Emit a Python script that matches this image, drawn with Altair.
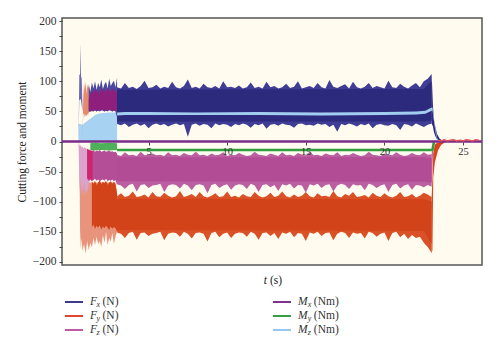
import altair as alt
import pandas as pd

SERIF = "Liberation Serif"

# ---------------- data ----------------
# main steady-cutting segment, sampled every 0.25 s from t = 3.0 s to 23.0 s
FX_HI = [90, 88, 97, 89, 91, 87, 92, 101, 89, 90,
         94, 88, 91, 89, 99, 90, 88, 92, 103, 89,
         91, 88, 96, 90, 89, 92, 88, 100, 90, 91,
         89, 93, 88, 90, 98, 89, 91, 88, 99, 90,
         92, 88, 90, 96, 89, 91, 100, 88, 90, 92,
         89, 97, 90, 88, 102, 91, 89, 92, 95, 88,
         99, 90, 88, 91, 97, 89, 92, 90, 88, 101,
         90, 89, 96, 91, 88, 93, 97, 90, 100, 104,
         112]
FX_LO = [29, 27, 30, 24, 28, 30, 26, 29, 22, 28,
         30, 27, 29, 25, 28, 30, 27, 29, 8, 28,
         30, 26, 29, 28, 22, 30, 27, 29, 28, 24,
         29, 27, 30, 28, 23, 29, 27, 30, 21, 28,
         29, 26, 30, 28, 27, 23, 29, 30, 27, 28,
         26, 30, 28, 29, 24, 28, 16, 29, 27, 30,
         28, 25, 29, 27, 30, 22, 28, 29, 27, 26,
         29, 27, 19, 29, 28, 25, 30, 27, 24, 28,
         30]
FZ_HI = [-22, -24, -18, -23, -22, -24, -17, -23, -22, -20,
         -23, -22, -24, -18, -23, -22, -24, -19, -22, -23,
         -17, -23, -22, -24, -20, -23, -22, -18, -24, -22,
         -23, -19, -22, -24, -23, -17, -22, -23, -24, -20,
         -22, -24, -18, -23, -22, -24, -19, -22, -23, -17,
         -23, -22, -24, -20, -22, -23, -18, -24, -22, -23,
         -19, -22, -24, -23, -17, -22, -23, -24, -20, -22,
         -23, -18, -22, -24, -23, -19, -22, -23, -18, -22,
         -21]
FZ_LO = [-71, -73, -79, -72, -70, -83, -72, -71, -77, -73,
         -72, -70, -84, -73, -71, -72, -78, -70, -73, -81,
         -72, -71, -73, -86, -72, -70, -77, -73, -71, -80,
         -73, -71, -72, -79, -70, -73, -84, -72, -71, -76,
         -72, -82, -71, -73, -70, -78, -72, -73, -85, -71,
         -73, -70, -77, -72, -71, -83, -73, -70, -72, -79,
         -71, -73, -72, -81, -70, -72, -77, -73, -71, -84,
         -72, -70, -78, -73, -71, -80, -72, -73, -76, -72,
         -75]
FY_HI = [-91, -86, -92, -90, -83, -92, -91, -88, -93, -84,
         -91, -92, -85, -90, -93, -91, -82, -92, -90, -87,
         -92, -84, -91, -93, -90, -86, -92, -91, -83, -92,
         -90, -93, -87, -91, -92, -84, -90, -93, -91, -85,
         -92, -90, -83, -91, -93, -88, -92, -90, -84, -91,
         -93, -86, -91, -90, -92, -82, -91, -93, -87, -90,
         -84, -92, -91, -89, -93, -85, -90, -92, -86, -91,
         -93, -90, -84, -92, -91, -87, -93, -90, -85, -88,
         -92]
FY_LO = [-151, -153, -160, -152, -150, -163, -152, -151, -157, -153,
         -152, -150, -164, -153, -151, -152, -158, -150, -153, -161,
         -152, -151, -153, -166, -152, -150, -159, -153, -151, -160,
         -153, -151, -152, -158, -150, -153, -163, -152, -151, -157,
         -152, -162, -151, -153, -150, -159, -152, -153, -165, -151,
         -153, -150, -157, -152, -151, -164, -153, -150, -152, -160,
         -151, -153, -152, -161, -150, -152, -158, -153, -151, -165,
         -152, -150, -159, -153, -162, -155, -160, -158, -168, -175,
         -185]
T_MAIN = [round(3.0 + 0.25 * i, 2) for i in range(len(FX_HI))]

# dense cores of the force bands
CORE_T = [3.0, 22.5, 23.0]
FX_CORE_HI = [86, 87, 100]
FX_CORE_LO = [33, 33, 35]
FZ_CORE_HI = [-26, -26, -28]
FZ_CORE_LO = [-66, -67, -68]
FY_CORE_HI = [-95, -96, -100]
FY_CORE_LO = [-147, -148, -170]

# entry transient (t = 0.5 ... 3.0 s)
FXT1_T = [0.55, 0.6, 0.65, 0.68, 0.71, 0.75, 0.8]
FXT1_HI = [0, 110, 112, 163, 108, 105, 60]
FXT1_LO = [0, 68, 70, 70, 68, 60, 50]
TR_T = [1.2, 1.3, 1.4, 1.5, 1.6, 1.7, 1.8, 1.9, 2.0, 2.1,
        2.2, 2.3, 2.4, 2.5, 2.6, 2.7, 2.8, 2.9, 3.0]
FXT2_HI = [95, 82, 98, 88, 100, 86, 97, 90, 103, 87, 95, 99, 88, 104, 92, 97, 101, 90, 106]
FXT2_LO = [50, 50, 51, 50, 52, 50, 51, 50, 52, 51, 50, 51, 50, 52, 51, 50, 51, 50, 40]
MAG_HI = [70, 78, 84, 80, 88, 82, 86, 79, 90, 84, 87, 81, 89, 85, 83, 88, 86, 82, 85]
MAG_LO = [52, 50, 53, 51, 52, 50, 54, 51, 52, 53, 50, 52, 51, 53, 52, 50, 52, 51, 52]
FYP_T = [0.8, 0.85, 0.9, 0.95, 1.0, 1.05, 1.1, 1.15, 1.2, 1.3, 1.4, 1.5]
FYP_HI = [0, 70, 98, 85, 100, 78, 95, 88, 92, 80, 85, 60]
FYP_LO = [0, 45, 47, 40, 45, 42, 46, 44, 48, 50, 50, 50]
MZT_T = [0.55, 0.8, 1.0, 1.2, 1.4, 1.6, 1.8, 2.0, 2.5, 3.0]
MZT_HI = [30, 28, 32, 36, 40, 44, 46, 47, 48, 48]
MZT_LO = [0, 0, 0, 0, 0, 0, 0, 0, 0, 0]

FZT1_T = [0.55, 0.6, 0.65, 0.7, 0.75, 0.8, 0.85, 0.9, 0.95, 1.0, 1.1, 1.2, 1.3]
FZT1_HI = [0, -5, -8, -6, -10, -8, -12, -10, -9, -11, -12, -13, -14]
FZT1_LO = [0, -70, -85, -60, -92, -75, -88, -65, -90, -80, -85, -70, -64]
FYT1_T = [0.6, 0.65, 0.7, 0.75, 0.8, 0.9, 1.0, 1.1, 1.2, 1.3, 1.4, 1.5, 1.6, 1.7,
          1.8, 1.9, 2.0, 2.1, 2.2, 2.3, 2.4, 2.5, 2.6, 2.7, 2.8, 2.9, 3.0]
FYT1_HI = [0, -40, -60, -50, -65, -60, -70, -65, -68, -68, -68, -68, -68, -68,
           -68, -68, -68, -68, -68, -68, -68, -68, -68, -68, -68, -68, -88]
FYT1_LO = [0, -150, -178, -160, -182, -170, -186, -165, -180, -168, -176, -160, -172, -158,
           -170, -165, -175, -155, -168, -150, -172, -160, -166, -152, -170, -158, -150]
FYT2_T = [1.4, 1.5, 1.6, 1.7, 1.8, 1.9, 2.0, 2.1, 2.2, 2.3, 2.4, 2.5, 2.6, 2.7, 2.8, 2.9, 3.0]
FYT2_HI = [-66, -70, -65, -72, -68, -64, -71, -67, -69, -65, -72, -68, -66, -70, -67, -71, -85]
FYT2_LO = [-142, -138, -145, -140, -143, -139, -146, -141, -144, -140, -143, -147, -141, -145, -142, -144, -150]
FZT2_T = [1.1, 1.2, 1.3, 1.4, 1.5, 1.6, 1.7, 1.8, 1.9, 2.0,
          2.1, 2.2, 2.3, 2.4, 2.5, 2.6, 2.7, 2.8, 2.9, 3.0]
FZT2_HI = [-12, -14, -15, -16, -14, -17, -15, -16, -14, -17, -16, -15, -17, -16, -15, -17, -16, -18, -17, -20]
FZT2_LO = [-62, -65, -63, -66, -64, -62, -65, -63, -66, -64, -63, -65, -62, -66, -64, -65, -63, -66, -64, -72]
CRIM_T = [1.1, 1.2, 1.3, 1.4, 1.45]
CRIM_HI = [-13, -14, -15, -15, -16]
CRIM_LO = [-60, -64, -62, -65, -63]

# moments
MY_BLK_T = [1.3, 1.5, 2.0, 2.5, 3.0]
MY_BLK_HI = [-3, -2, -3, -2, -3]
MY_BLK_LO = [-14, -15, -14, -15, -14]
MY_T = [3.0, 23.05, 23.15]
MY_V = [-14, -14, 0]
MZ_T = [3.0, 3.5, 5, 8, 12, 16, 20, 22, 22.6, 22.9, 23.05, 23.15, 23.25, 23.35, 23.45]
MZ_HI = [48, 49, 49, 48, 49, 48, 49, 50, 51, 55, 57, 40, 20, 6, 0]
MZ_LO = [43, 44, 44, 44, 44, 43, 44, 45, 46, 50, 52, 33, 14, 2, 0]
MX_T = [-0.5, 26.2]
MX_V = [0, 0]

# exit transient
FXE_T = [23.0, 23.08, 23.15, 23.25, 23.35, 23.5, 23.7]
FXE_HI = [112, 60, 35, 22, 12, 5, 1]
FXE_LO = [30, 25, 15, 8, 3, 0, 0]
FYE_T = [23.0, 23.05, 23.1, 23.2, 23.3, 23.4, 23.6, 23.8]
FYE_HI = [-92, -60, -20, -5, -3, -2, 0, 0]
FYE_LO = [-185, -180, -60, -35, -25, -15, -6, -2]
FZE_T = [23.0, 23.05, 23.1]
FZE_HI = [-21, -10, 0]
FZE_LO = [-75, -40, 0]
NOISE_T = [23.4, 23.6, 23.8, 24.0, 24.2, 24.4, 24.6, 24.8, 25.0, 25.2, 25.4, 25.6, 25.8, 26.0]
NOISE_V = [2, 1, 3, 1, 2, 3, 1, 2, 1, 3, 2, 1, 3, 2]

X_TICKS = [5, 10, 15, 20, 25]
Y_TICKS = list(range(-200, 201, 25))

LEG_LETTER = ["F", "F", "F", "M", "M", "M"]
LEG_SUB = ["x", "y", "z", "x", "y", "z"]
LEG_UNIT = ["(N)", "(N)", "(N)", "(Nm)", "(Nm)", "(Nm)"]
LEG_COLOR = ["#3c3a90", "#e0472b", "#c05aa6", "#7d3592", "#35a047", "#98c6ee"]

# ---------------- chart ----------------
XS = alt.Scale(domain=[-0.5, 26.2], nice=False, zero=False)
YS = alt.Scale(domain=[-205, 205], nice=False, zero=False)
XAX = alt.Axis(values=X_TICKS, offset=-123, orient="bottom", domain=False, grid=False,
               tickSize=3, tickColor="#444", labelFont=SERIF, labelFontSize=10.5,
               labelColor="#333", labelPadding=1, title=None, zindex=1)
YAX = alt.Axis(values=Y_TICKS, labelExpr="datum.value % 50 == 0 ? datum.label : ''",
               domain=False, grid=False, tickSize=3, tickColor="#444",
               labelFont=SERIF, labelFontSize=11.5, labelColor="#333", labelPadding=3,
               title="Cutting force and moment", titleFont=SERIF, titleFontSize=11.5,
               titleFontWeight="normal", titleColor="#222", titlePadding=5)


def band(ts, lo, hi, color, opacity=1.0):
    df = pd.DataFrame({"t": ts, "lo": lo, "hi": hi})
    return alt.Chart(df).mark_area(color=color, opacity=opacity, clip=True).encode(
        x=alt.X("t:Q", scale=XS, axis=XAX),
        y=alt.Y("hi:Q", scale=YS, axis=YAX),
        y2="lo:Q")


def line(ts, vs, color, width):
    df = pd.DataFrame({"t": ts, "hi": vs})
    return alt.Chart(df).mark_line(color=color, strokeWidth=width, clip=True).encode(
        x=alt.X("t:Q", scale=XS, axis=XAX),
        y=alt.Y("hi:Q", scale=YS, axis=YAX))


layers = [
    # negative side
    band(FYT1_T, FYT1_LO, FYT1_HI, "#e8937c"),
    band(FZT1_T, FZT1_LO, FZT1_HI, "#dba3cc"),
    band(FYT2_T, FYT2_LO, FYT2_HI, "#d2431a"),
    band(FZT2_T, FZT2_LO, FZT2_HI, "#b44e97"),
    band(CRIM_T, CRIM_LO, CRIM_HI, "#d0256e"),
    band(T_MAIN, FY_LO, FY_HI, "#da5128"),
    band(CORE_T, FY_CORE_LO, FY_CORE_HI, "#d2431a"),
    band(FYE_T, FYE_LO, FYE_HI, "#d9441c"),
    band(T_MAIN, FZ_LO, FZ_HI, "#bb5ea2"),
    band(CORE_T, FZ_CORE_LO, FZ_CORE_HI, "#b24c94"),
    band(FZE_T, FZE_LO, FZE_HI, "#b24c94"),
    band(MY_BLK_T, MY_BLK_LO, MY_BLK_HI, "#4fb05a"),
    line(MY_T, MY_V, "#2e9e3e", 2.5),
    # positive side
    band(MZT_T, MZT_LO, MZT_HI, "#a8d2f2"),
    band(FYP_T, FYP_LO, FYP_HI, "#e58a6c"),
    band(FXT1_T, FXT1_LO, FXT1_HI, "#6a68b5"),
    band(TR_T, FXT2_LO, FXT2_HI, "#4a48a0"),
    band(TR_T, MAG_LO, MAG_HI, "#8e1f7c"),
    band(T_MAIN, FX_LO, FX_HI, "#3f3d95"),
    band(CORE_T, FX_CORE_LO, FX_CORE_HI, "#2c2a7c"),
    band(FXE_T, FXE_LO, FXE_HI, "#2c2a7c"),
    band(MZ_T, MZ_LO, MZ_HI, "#a3cdf0"),
    line(MX_T, MX_V, "#7b2b8b", 2.5),
    line(NOISE_T, NOISE_V, "#e0505a", 1.5),
]

# axis title "t (s)"
layers.append(alt.Chart(pd.DataFrame({"s": ["t"]})).mark_text(
    font=SERIF, fontSize=11.5, fontStyle="italic", align="right", baseline="middle",
    color="#222").encode(x=alt.value(205), y=alt.value(263), text="s:N"))
layers.append(alt.Chart(pd.DataFrame({"s": ["(s)"]})).mark_text(
    font=SERIF, fontSize=11.5, align="left", baseline="middle",
    color="#222").encode(x=alt.value(208), y=alt.value(263), text="s:N"))

# legend
leg = pd.DataFrame({"letter": LEG_LETTER, "sub": LEG_SUB, "unit": LEG_UNIT, "color": LEG_COLOR})
leg["col"] = [i // 3 for i in range(len(leg))]
leg["row"] = [i % 3 for i in range(len(leg))]
leg["x0"] = 3 + leg["col"] * 208
leg["x1"] = leg["x0"] + 18
leg["ly"] = 284 + leg["row"] * 14
leg["lx"] = leg["x0"] + 25
leg["sx"] = leg["lx"] + leg["letter"].map({"F": 6.5, "M": 9.8})
leg["ux"] = leg["sx"] + 6
leg["sy"] = leg["ly"] + 3

base = alt.Chart(leg)
layers.append(base.mark_rule(strokeWidth=2).encode(
    x=alt.X("x0:Q", scale=None, axis=None), x2="x1:Q",
    y=alt.Y("ly:Q", scale=None, axis=None), color=alt.Color("color:N", scale=None)))
layers.append(base.mark_text(font=SERIF, fontSize=11.5, fontStyle="italic", align="left",
                             baseline="middle", color="#333").encode(
    x=alt.X("lx:Q", scale=None, axis=None), y=alt.Y("ly:Q", scale=None, axis=None), text="letter:N"))
layers.append(base.mark_text(font=SERIF, fontSize=8, fontStyle="italic", align="left",
                             baseline="middle", color="#333").encode(
    x=alt.X("sx:Q", scale=None, axis=None), y=alt.Y("sy:Q", scale=None, axis=None), text="sub:N"))
layers.append(base.mark_text(font=SERIF, fontSize=11.5, align="left",
                             baseline="middle", color="#333").encode(
    x=alt.X("ux:Q", scale=None, axis=None), y=alt.Y("ly:Q", scale=None, axis=None), text="unit:N"))

chart = alt.layer(*layers).properties(
    width=420, height=247,
    autosize=alt.AutoSizeParams(type="none"),
    padding={"left": 62, "top": 18, "right": 18, "bottom": 89},
    background="white",
).configure_view(fill="#fffbef", stroke="#555", strokeWidth=1.5)

chart.save("out.html", embed_options={"renderer": "svg", "actions": False})
